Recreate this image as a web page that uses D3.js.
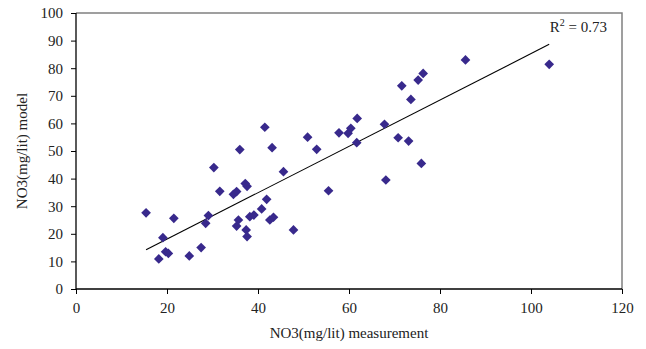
<!DOCTYPE html>
<html>
<head>
<meta charset="utf-8">
<script src="https://cdn.jsdelivr.net/npm/d3@7"></script>
<style>
  body { margin: 0; background: #fff; }
  svg { display: block; font-family: 'Liberation Serif', 'Times New Roman', serif; }
</style>
</head>
<body>
<script>
// measured vs modelled NO3 (mg/lit)
const measured = [15.4, 18.2, 19.1, 19.7, 20.3, 21.5, 24.9, 27.5, 28.5, 29.1,
  30.3, 31.6, 34.6, 35.3, 35.3, 35.7, 36.0, 37.2, 37.6, 37.4, 37.6, 38.2,
  39.1, 40.8, 41.5, 41.9, 42.6, 43.1, 43.4, 45.6, 47.8, 50.9, 52.9, 55.5,
  57.8, 59.8, 60.4, 61.8, 61.7, 67.8, 68.1, 70.8, 71.6, 73.1, 73.6, 75.2,
  76.3, 75.9, 85.6, 104.0]
const modelled = [27.6, 10.9, 18.6, 13.5, 12.9, 25.6, 12.0, 15.0, 23.8, 26.6,
  44.0, 35.4, 34.3, 35.3, 22.8, 25.0, 50.5, 38.2, 37.2, 21.4, 19.0, 26.2,
  26.8, 29.0, 58.6, 32.5, 25.0, 51.2, 26.0, 42.5, 21.4, 55.0, 50.6, 35.6,
  56.6, 56.4, 58.2, 61.8, 53.0, 59.7, 39.5, 54.8, 73.6, 53.6, 68.7, 75.7,
  78.1, 45.5, 83.0, 81.4]
const xTicks = [0, 20, 40, 60, 80, 100, 120]
const yTicks = [0, 10, 20, 30, 40, 50, 60, 70, 80, 90, 100]
const r2Label = '0.73'

const width = 646
const height = 349
const margin = { top: 13, right: 24, bottom: 60, left: 76 }

const svg = d3.select('body').append('svg')
  .attr('width', width)
  .attr('height', height)

const x = d3.scaleLinear().domain([0, 120]).range([margin.left, width - margin.right])
const y = d3.scaleLinear().domain([0, 100]).range([height - margin.bottom, margin.top])

// grey frame on top / right
svg.append('path')
  .attr('d', `M${x(0)},${y(100)}H${x(120)}V${y(0)}`)
  .attr('fill', 'none')
  .attr('stroke', '#808080')
  .attr('stroke-width', 1.5)

const xAxis = svg.append('g')
  .attr('transform', `translate(0,${y(0)})`)
  .call(d3.axisBottom(x).tickValues(xTicks).tickSize(5).tickPadding(8).tickFormat(d3.format('d')))
const yAxis = svg.append('g')
  .attr('transform', `translate(${x(0)},0)`)
  .call(d3.axisLeft(y).tickValues(yTicks).tickSize(5).tickPadding(8).tickFormat(d3.format('d')))

for (const ax of [xAxis, yAxis]) {
  ax.select('.domain').attr('stroke', '#000').attr('stroke-width', 1.3)
  ax.selectAll('.tick line').attr('stroke', '#000')
  ax.selectAll('.tick text')
    .attr('fill', '#222')
    .style('font-family', "'Liberation Serif', serif")
    .style('font-size', '15px')
}
yAxis.select('.domain').attr('d', `M0,${y(0)}V${y(100)}`)
xAxis.select('.domain').attr('d', `M${x(0)},0H${x(120)}`)

// least squares trend line
const mx = d3.mean(measured)
const my = d3.mean(modelled)
const sxy = d3.sum(measured, (v, i) => (v - mx) * (modelled[i] - my))
const sxx = d3.sum(measured, v => (v - mx) * (v - mx))
const slope = sxy / sxx
const icpt = my - slope * mx
const [x0, x1] = d3.extent(measured)

svg.append('line')
  .attr('x1', x(x0)).attr('y1', y(icpt + slope * x0))
  .attr('x2', x(x1)).attr('y2', y(icpt + slope * x1))
  .attr('stroke', '#000')
  .attr('stroke-width', 1.1)

const diamond = d3.symbol().type(d3.symbolDiamond2).size(60)
svg.append('g')
  .selectAll('path')
  .data(measured.map((v, i) => [v, modelled[i]]))
  .join('path')
  .attr('d', diamond)
  .attr('transform', d => `translate(${x(d[0])},${y(d[1])})`)
  .attr('fill', '#38298c')

// R² label
const r2 = svg.append('text')
  .attr('x', x(120) - 15)
  .attr('y', 32)
  .attr('text-anchor', 'end')
  .attr('fill', '#222')
  .style('font-size', '15px')
r2.append('tspan').text('R')
r2.append('tspan').attr('dy', -6).style('font-size', '10px').text('2')
r2.append('tspan').attr('dy', 6).text(` = ${r2Label}`)

svg.append('text')
  .attr('x', (x(0) + x(120)) / 2)
  .attr('y', 338)
  .attr('text-anchor', 'middle')
  .attr('fill', '#222')
  .style('font-size', '15px')
  .text('NO3(mg/lit) measurement')

svg.append('text')
  .attr('transform', `translate(27,${(y(0) + y(100)) / 2}) rotate(-90)`)
  .attr('text-anchor', 'middle')
  .attr('fill', '#222')
  .style('font-size', '15px')
  .text('NO3(mg/lit) model')
</script>
</body>
</html>
